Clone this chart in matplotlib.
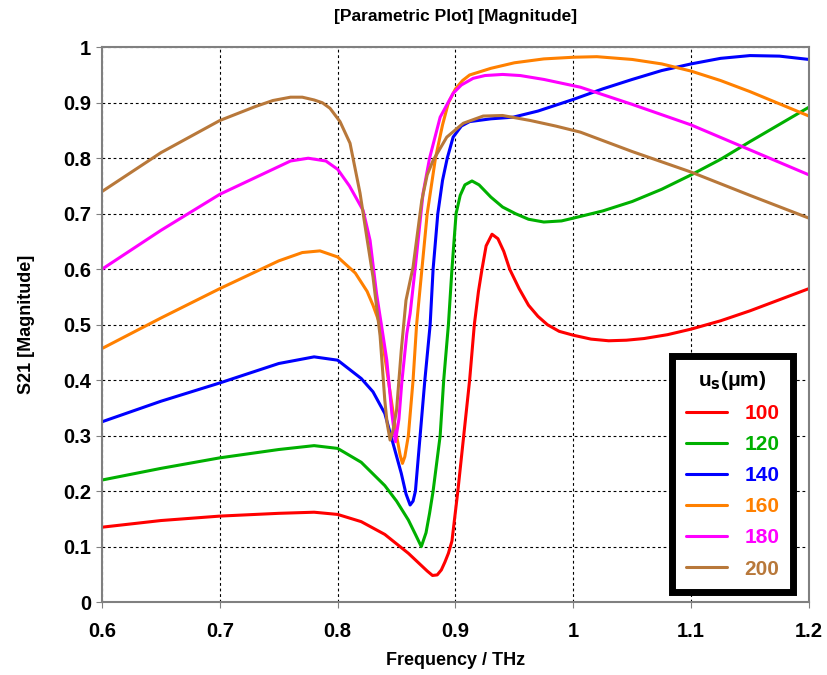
import matplotlib
matplotlib.use("Agg")
import matplotlib.pyplot as plt

plt.rcParams['font.family'] = ['Liberation Sans', 'DejaVu Sans']
plt.rcParams['font.weight'] = 'bold'

# values
f100 = [0.60, 0.65, 0.70, 0.75, 0.78, 0.80, 0.82, 0.84, 0.86, 0.87, 0.876, 0.8805, 0.8845, 0.888,
        0.891, 0.894, 0.897, 0.902, 0.907, 0.912, 0.916, 0.9195, 0.9225, 0.926, 0.931, 0.936, 0.941,
        0.946, 0.954, 0.962, 0.970, 0.978, 0.988, 1.00, 1.015, 1.03, 1.045, 1.06, 1.08, 1.10, 1.125,
        1.15, 1.175, 1.20]
s100 = [0.135, 0.147, 0.155, 0.160, 0.162, 0.158, 0.145, 0.122, 0.088, 0.068, 0.056, 0.048, 0.049, 0.058,
        0.072, 0.088, 0.110, 0.20, 0.30, 0.40, 0.50, 0.56, 0.60, 0.642, 0.663, 0.655, 0.632,
        0.600, 0.565, 0.535, 0.515, 0.500, 0.488, 0.481, 0.474, 0.471, 0.472, 0.475, 0.482, 0.492, 0.507,
        0.525, 0.545, 0.565]

f120 = [0.60, 0.65, 0.70, 0.75, 0.78, 0.80, 0.82, 0.84, 0.85, 0.86, 0.866, 0.871, 0.875, 0.878,
        0.881, 0.887, 0.890, 0.894, 0.897, 0.9005, 0.904, 0.908, 0.914, 0.920, 0.930, 0.940, 0.951,
        0.962, 0.975, 0.99, 1.00, 1.025, 1.05, 1.075, 1.10, 1.125, 1.15, 1.175, 1.20]
s120 = [0.220, 0.241, 0.260, 0.275, 0.282, 0.277, 0.252, 0.210, 0.182, 0.148, 0.122, 0.100, 0.125, 0.160,
        0.20, 0.30, 0.40, 0.50, 0.60, 0.70, 0.733, 0.752, 0.759, 0.752, 0.730, 0.712, 0.700,
        0.690, 0.685, 0.687, 0.692, 0.705, 0.722, 0.744, 0.770, 0.798, 0.830, 0.861, 0.892]

f140 = [0.60, 0.65, 0.70, 0.75, 0.78, 0.80, 0.82, 0.83, 0.84, 0.847, 0.854, 0.858, 0.8615, 0.864,
        0.866, 0.870, 0.874, 0.8785, 0.881, 0.885, 0.889, 0.893, 0.898, 0.905, 0.912, 0.93, 0.949,
        0.97, 1.00, 1.025, 1.05, 1.075, 1.10, 1.125, 1.15, 1.175, 1.20]
s140 = [0.325, 0.362, 0.395, 0.430, 0.442, 0.436, 0.403, 0.379, 0.340, 0.286, 0.232, 0.195, 0.175, 0.182,
        0.20, 0.30, 0.40, 0.50, 0.60, 0.70, 0.760, 0.800, 0.838, 0.858, 0.866, 0.871, 0.874,
        0.885, 0.906, 0.925, 0.942, 0.958, 0.970, 0.980, 0.985, 0.984, 0.978]

f160 = [0.60, 0.65, 0.70, 0.75, 0.77, 0.785, 0.80, 0.815, 0.825, 0.830, 0.836, 0.843, 0.850, 0.853,
        0.855, 0.857, 0.860, 0.864, 0.867, 0.8715, 0.876, 0.883, 0.889, 0.894, 0.900, 0.906, 0.912,
        0.93, 0.95, 0.975, 1.00, 1.02, 1.05, 1.075, 1.10, 1.125, 1.15, 1.175, 1.20]
s160 = [0.457, 0.512, 0.565, 0.615, 0.630, 0.633, 0.622, 0.593, 0.560, 0.535, 0.50, 0.40, 0.30, 0.265,
        0.250, 0.262, 0.30, 0.40, 0.50, 0.60, 0.70, 0.80, 0.860, 0.90, 0.925, 0.940, 0.950,
        0.962, 0.972, 0.979, 0.982, 0.983, 0.978, 0.970, 0.957, 0.940, 0.920, 0.898, 0.876]

f180 = [0.60, 0.65, 0.70, 0.75, 0.76, 0.775, 0.79, 0.80, 0.81, 0.8216, 0.8275, 0.833, 0.8387, 0.8417,
        0.846, 0.849, 0.852, 0.8544, 0.8587, 0.8615, 0.8657, 0.8725, 0.878, 0.887, 0.898, 0.905,
        0.915, 0.925, 0.94, 0.955, 0.975, 1.006, 1.05, 1.10, 1.15, 1.20]
s180 = [0.600, 0.670, 0.735, 0.785, 0.795, 0.800, 0.795, 0.780, 0.750, 0.706, 0.652, 0.556, 0.478, 0.436,
        0.340, 0.289, 0.330, 0.395, 0.484, 0.520, 0.600, 0.737, 0.800, 0.874, 0.917, 0.932,
        0.944, 0.949, 0.951, 0.949, 0.942, 0.928, 0.897, 0.860, 0.815, 0.770]

f200 = [0.60, 0.65, 0.70, 0.73, 0.745, 0.76, 0.77, 0.78, 0.787, 0.7935, 0.802, 0.8105, 0.819, 0.8247,
        0.830, 0.836, 0.840, 0.842, 0.8445, 0.847, 0.850, 0.854, 0.858, 0.864, 0.8714, 0.876, 0.881,
        0.8926, 0.9066, 0.9235, 0.940, 0.9635, 0.985, 1.006, 1.05, 1.10, 1.15, 1.20]
s200 = [0.740, 0.810, 0.868, 0.893, 0.904, 0.910, 0.910, 0.905, 0.900, 0.890, 0.866, 0.827, 0.737, 0.658,
        0.586, 0.480, 0.364, 0.322, 0.292, 0.310, 0.346, 0.454, 0.544, 0.604, 0.724, 0.770, 0.796,
        0.838, 0.863, 0.876, 0.877, 0.868, 0.858, 0.847, 0.812, 0.775, 0.733, 0.692]

labels = ["100", "120", "140", "160", "180", "200"]
colors = ["#FF0000", "#00B000", "#0000FF", "#FF8000", "#FF00FF", "#B8783A"]
freqs = [f100, f120, f140, f160, f180, f200]
mags = [s100, s120, s140, s160, s180, s200]

fig = plt.figure(figsize=(8.28, 6.75), dpi=100)
ax = fig.add_axes([0.1232, 0.108, 0.8538, 0.822])

for f, s, c, lab in zip(freqs, mags, colors, labels):
    ax.plot(f, s, color=c, lw=2.2, label=lab, solid_joinstyle='round', solid_capstyle='round')

ax.set_xlim(0.6, 1.2)
ax.set_ylim(0, 1)
ax.set_xticks([0.6, 0.7, 0.8, 0.9, 1.0, 1.1, 1.2])
ax.set_xticklabels(["0.6", "0.7", "0.8", "0.9", "1", "1.1", "1.2"])
ax.set_yticks([0, 0.1, 0.2, 0.3, 0.4, 0.5, 0.6, 0.7, 0.8, 0.9, 1.0])
ax.set_yticklabels(["0", "0.1", "0.2", "0.3", "0.4", "0.5", "0.6", "0.7", "0.8", "0.9", "1"])
ax.grid(True, color='black', linestyle=(0, (2.5, 2.5)), lw=0.8)
ax.tick_params(direction='out', length=4, color='#808080', labelsize=14.5, pad=4)
ax.tick_params(axis='x', pad=10)
for sp in ax.spines.values():
    sp.set_color('#808080')
    sp.set_linewidth(1.5)

ax.set_title("[Parametric Plot] [Magnitude]", fontsize=12.5, fontweight='bold', pad=19)
ax.set_xlabel("Frequency / THz", fontsize=13, fontweight='bold', labelpad=8)
ax.set_ylabel("S21 [Magnitude]", fontsize=13, fontweight='bold', labelpad=20)

leg = ax.legend(loc='lower right', bbox_to_anchor=(0.977, 0.018), borderaxespad=0,
                title=r"u$_\mathbf{s}$(μm)", title_fontproperties={'weight': 'bold', 'size': 15},
                prop={'weight': 'bold', 'size': 15}, labelcolor='linecolor',
                fancybox=False, framealpha=1, edgecolor='black', handlelength=2.0,
                labelspacing=0.58, borderpad=0.65)
leg.get_frame().set_linewidth(5)
leg.set_zorder(5)

fig.savefig("out.png", dpi=100)
